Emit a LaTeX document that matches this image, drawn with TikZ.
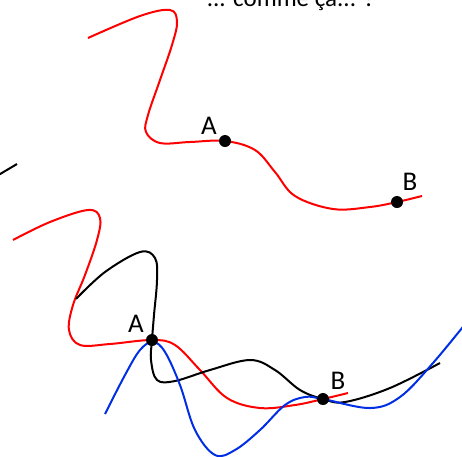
\documentclass[tikz,border=0pt]{standalone}
\usepackage{fontspec}
\setmainfont{Carlito}

\begin{document}
\begin{tikzpicture}
[x=1pt,y=-1pt,line width=2pt,
  curve/.style={smooth,tension=0.6},
  dot/.style={circle,fill=black,inner sep=0pt,minimum size=12pt},
  lbl/.style={font=\fontsize{27}{32}\selectfont}]
  \useasboundingbox (0,0) rectangle (462,456);
  \clip (0,0) rectangle (462,456);

  \node[font=\fontsize{25}{30}\selectfont,anchor=base] (title) at (291,6) {... comme ça... ?};

  % premier chemin
  \coordinate (A1) at (225,141);
  \coordinate (B1) at (397,202);
  \draw[red] plot[curve] coordinates {(88,38) (140,16) (170,10) (177,22) (172,45)
    (160,80) (148,115) (146,132) (160,143) (190,142) (A1) (255,150) (275,172)
    (295,196) (333,209) (370,207) (B1) (422,196)};

  % second chemin
  \coordinate (A2) at (152,340);
  \coordinate (B2) at (323,399);
  \draw[red] plot[curve] coordinates {(13,240) (50,222) (88,210) (100,218) (97,240)
    (85,275) (73,305) (69,330) (80,345) (110,344) (A2) (175,345) (200,370)
    (227,398) (260,408) (295,405) (B2) (348,393)};
  \draw[black] plot[curve] coordinates {(76,299) (105,272) (140,252) (155,258)
    (157,280) (154,315) (A2) (151,360) (157,380) (175,381) (210,370) (250,360)
    (275,370) (300,390) (B2) (345,402) (390,388) (440,363)};
  \draw[blue!80!cyan!90!black] plot[curve] coordinates {(105,414) (125,375) (140,350)
    (153,342) (165,352) (180,385) (195,430) (215,455) (235,450) (260,430)
    (285,405) (305,397) (B2) (370,408) (400,397) (433,363) (470,318)};

  \draw (-10,180) -- (17,164);

  \node[dot] (a1) at (A1) {};
  \node[dot] (b1) at (B1) {};
  \node[dot] (a2) at (A2) {};
  \node[dot] (b2) at (B2) {};
  \node[lbl] (la1) at (209,126) {A};
  \node[lbl] (lb1) at (410,182) {B};
  \node[lbl] (la2) at (136,324) {A};
  \node[lbl] (lb2) at (338,381) {B};
\end{tikzpicture}
\end{document}
